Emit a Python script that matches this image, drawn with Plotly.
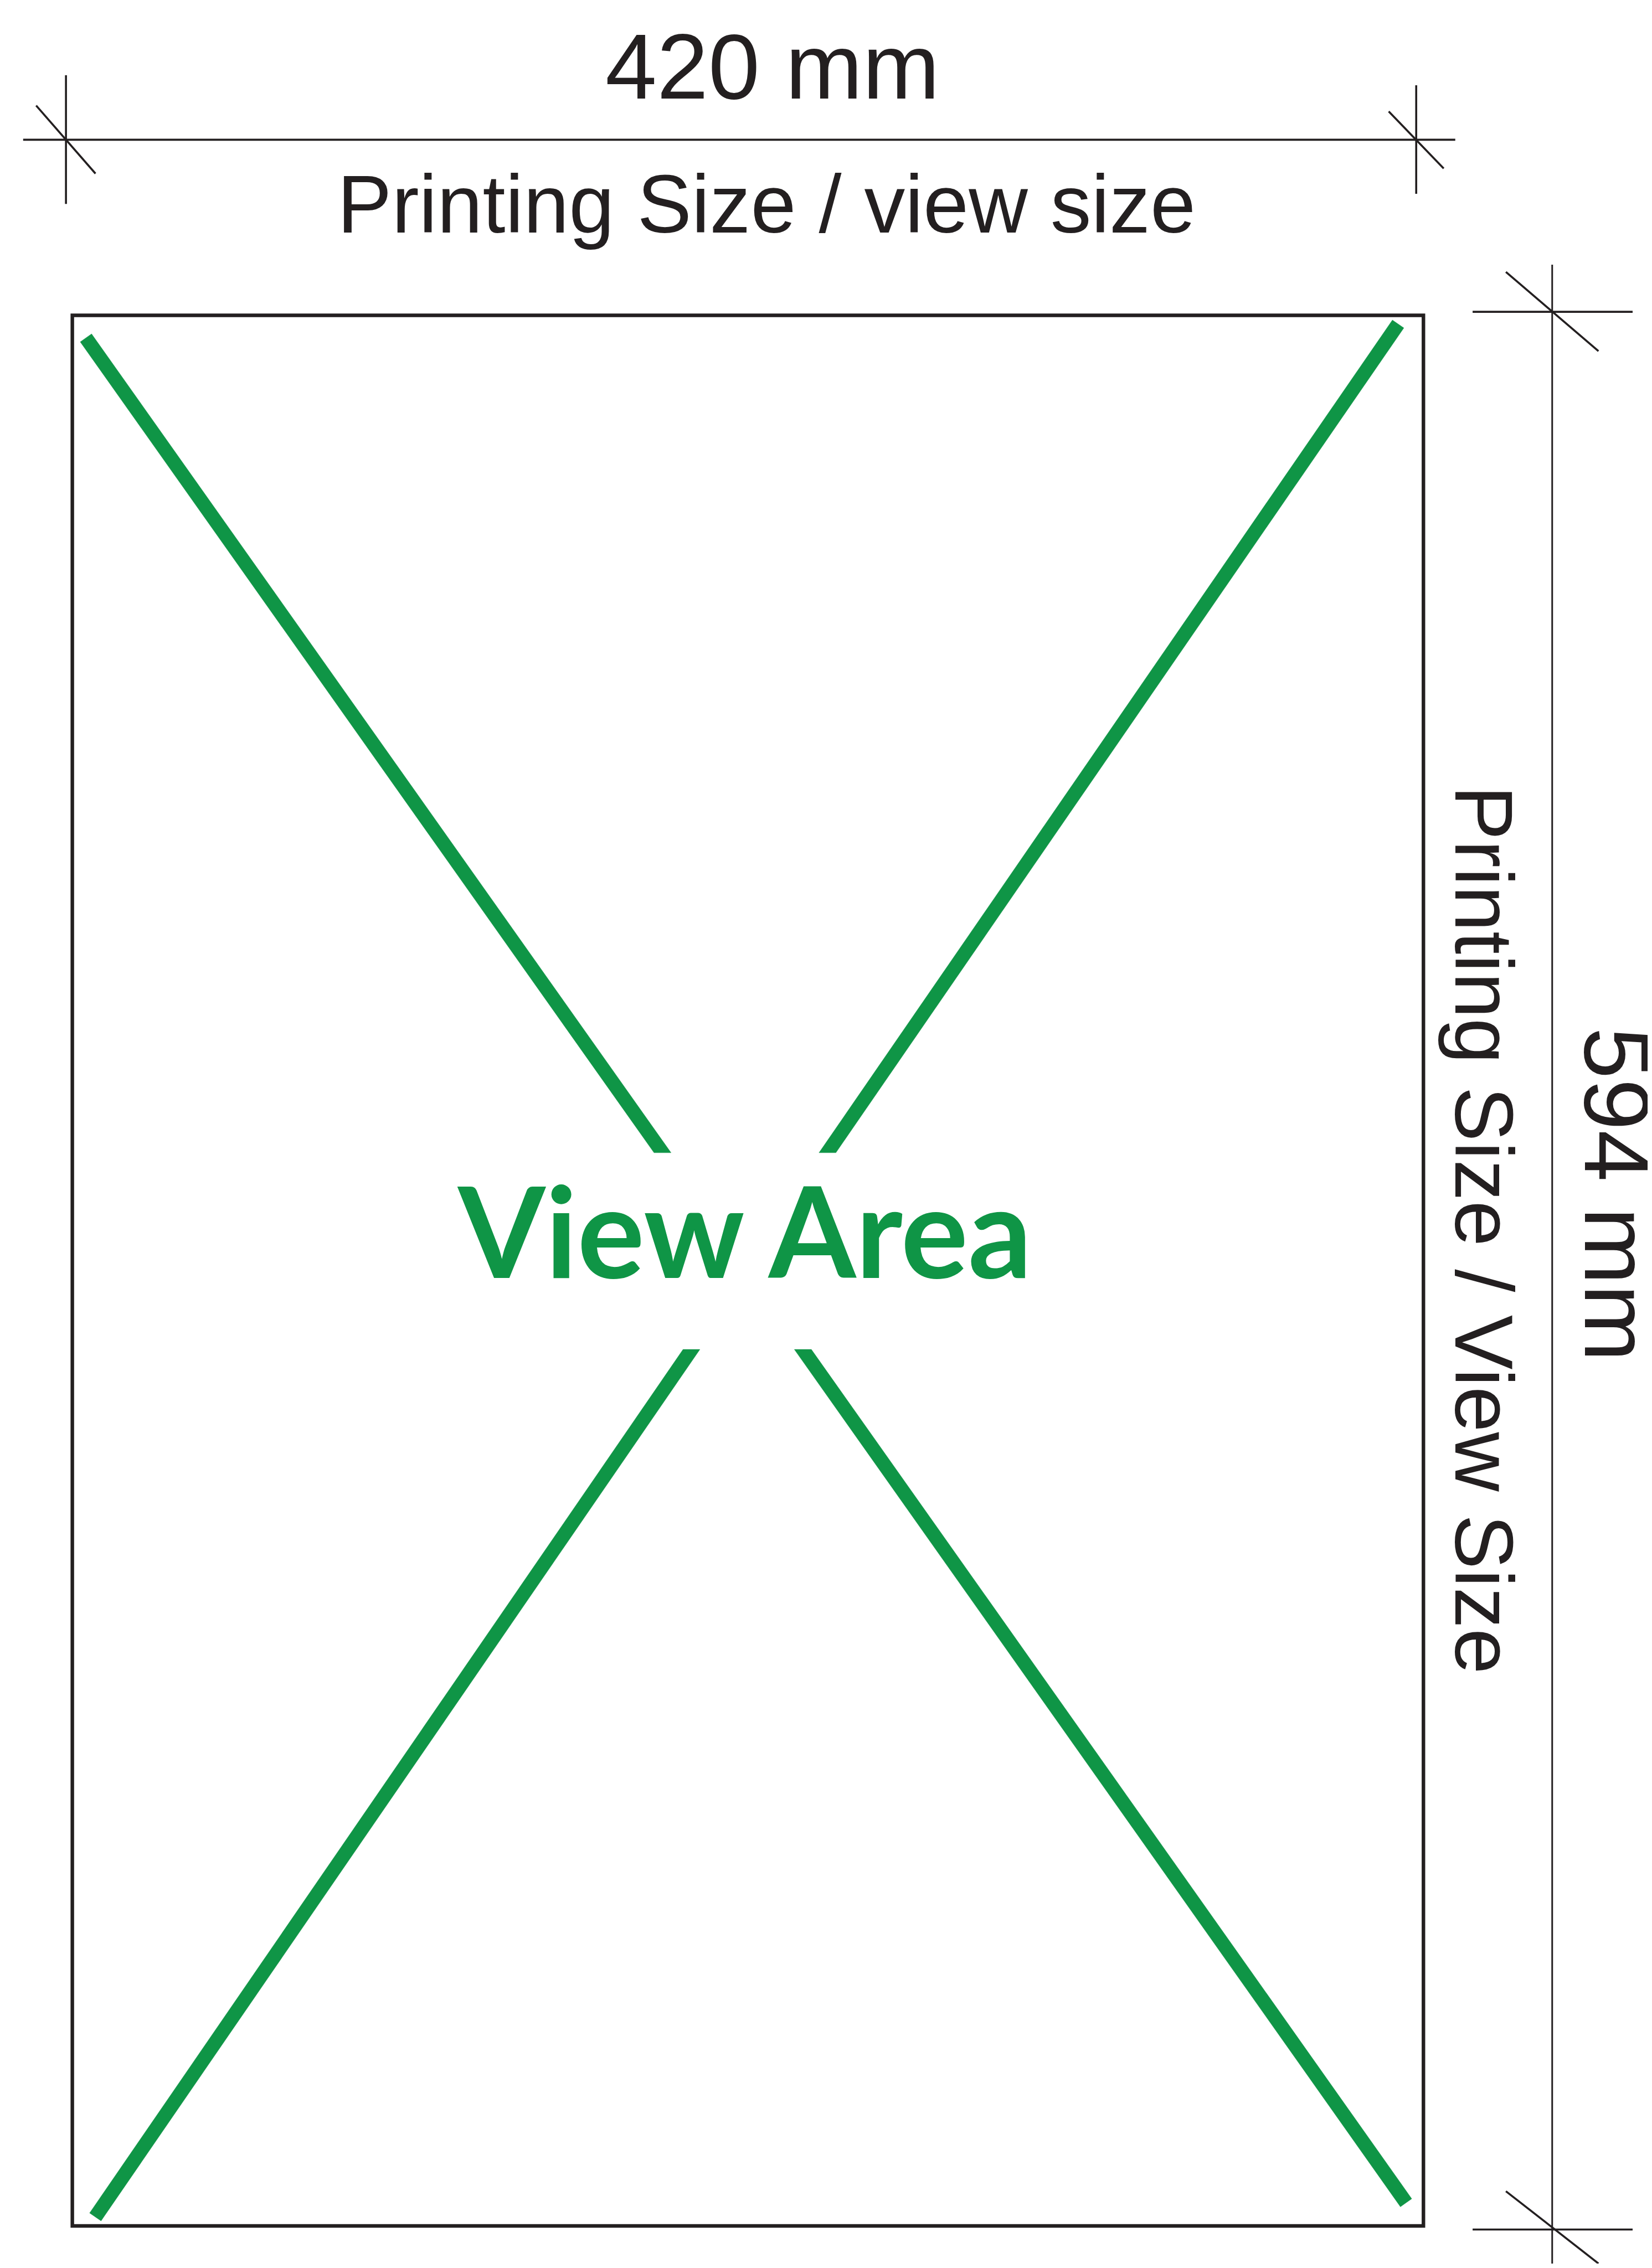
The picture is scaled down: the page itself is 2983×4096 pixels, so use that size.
import numpy as np
import plotly.graph_objects as go

# ---- diagram data (reference coordinates, 1142 x 1568 drawing units) ----
page_w, page_h = 1142, 1568

# view-area frame
frame_x = [50, 984]
frame_y = [218, 1539]

# green diagonals: outer end (near frame corner) -> inner end (near the label)
diag_outer_x = [59.4, 966.5, 65.9, 972.0]
diag_outer_y = [233.6, 224.0, 1532.8, 1523.0]
diag_inner_x = [458.0, 572.0, 478.0, 555.0]
diag_inner_y = [797.0, 797.0, 933.0, 933.0]
diag_width = 9.6

# horizontal dimension (420 mm)
hdim_line_x = [16, 1006]
hdim_line_y = 96.6
hdim_tick_x = [45.6, 979.0]
hdim_tick_y0 = [52, 59]
hdim_tick_y1 = [141, 134]
hdim_slash_x0 = [25, 960]
hdim_slash_y0 = [73, 77]
hdim_slash_x1 = [66, 998]
hdim_slash_y1 = [120, 116.5]

# vertical dimension (594 mm)
vdim_line_x = 1073
vdim_line_y = [183, 1568]
vdim_tick_y = [215.6, 1541.5]
vdim_tick_x0 = [1018, 1018]
vdim_tick_x1 = [1128.6, 1128.6]
vdim_slash_x0 = [1041, 1041]
vdim_slash_y0 = [188, 1515]
vdim_slash_x1 = [1105, 1105]
vdim_slash_y1 = [242.8, 1565]

dim_labels = ["420 mm", "594 mm"]
size_labels = ["Printing Size / view size", "Printing Size / View Size"]
center_label = "View Area"

GREEN = "#0f9546"
INK = "#231f20"
WIN_W, WIN_H = 2983, 4096
S = WIN_W / page_w  # px per drawing unit
BODY = 8            # default page margin around the plot div
FIG_W, FIG_H = WIN_W - 2 * BODY, WIN_H - 2 * BODY
u0 = BODY / S

fig = go.Figure()

# frame
fig.add_shape(type="rect", xref="x", yref="y",
              x0=frame_x[0], x1=frame_x[1], y0=frame_y[0], y1=frame_y[1],
              line=dict(color=INK, width=6.4), fillcolor="rgba(0,0,0,0)")

# green diagonals as filled strips (square outer cut, horizontal inner cut)
h = diag_width / 2
for ox, oy, ix, iy in zip(diag_outer_x, diag_outer_y, diag_inner_x, diag_inner_y):
    O = np.array([ox, oy]); I = np.array([ix, iy])
    d = (I - O) / np.linalg.norm(I - O)
    n = np.array([-d[1], d[0]])
    pts = []
    for s in (1, -1):
        P0 = O + s * h * n
        t = (iy - P0[1]) / d[1]
        pts.append((P0, P0 + t * d))
    poly = [pts[0][0], pts[0][1], pts[1][1], pts[1][0], pts[0][0]]
    fig.add_trace(go.Scatter(x=[p[0] for p in poly], y=[p[1] for p in poly],
                             mode="lines", fill="toself", fillcolor=GREEN,
                             line=dict(color=GREEN, width=0.5),
                             hoverinfo="skip", showlegend=False))

def seg(x0, y0, x1, y1, w=3.6):
    fig.add_trace(go.Scatter(x=[x0, x1], y=[y0, y1], mode="lines",
                             line=dict(color=INK, width=w),
                             hoverinfo="skip", showlegend=False))

# horizontal dimension
seg(hdim_line_x[0], hdim_line_y, hdim_line_x[1], hdim_line_y)
for i in range(2):
    seg(hdim_tick_x[i], hdim_tick_y0[i], hdim_tick_x[i], hdim_tick_y1[i])
    seg(hdim_slash_x0[i], hdim_slash_y0[i], hdim_slash_x1[i], hdim_slash_y1[i])

# vertical dimension
seg(vdim_line_x, vdim_line_y[0], vdim_line_x, vdim_line_y[1], w=3.0)
for i in range(2):
    seg(vdim_tick_x0[i], vdim_tick_y[i], vdim_tick_x1[i], vdim_tick_y[i])
    seg(vdim_slash_x0[i], vdim_slash_y0[i], vdim_slash_x1[i], vdim_slash_y1[i])

SANS = "Liberation Sans, Arial, sans-serif"
fig.add_annotation(x=534, y=46, text=dim_labels[0], showarrow=False,
                   xanchor="center", yanchor="middle",
                   font=dict(family=SANS, size=64 * S, color=INK))
fig.add_annotation(x=530, y=141, text=size_labels[0], showarrow=False,
                   xanchor="center", yanchor="middle",
                   font=dict(family=SANS, size=56.5 * S, color=INK))
fig.add_annotation(x=1118, y=826, text=dim_labels[1], showarrow=False,
                   textangle=90, xanchor="center", yanchor="middle",
                   font=dict(family=SANS, size=64 * S, color=INK))
fig.add_annotation(x=1026, y=850, text=size_labels[1], showarrow=False,
                   textangle=90, xanchor="center", yanchor="middle",
                   font=dict(family=SANS, size=56.8 * S, color=INK))
fig.add_annotation(x=514.5, y=850, text=center_label, showarrow=False,
                   xanchor="center", yanchor="middle",
                   font=dict(family="Lato, Open Sans, sans-serif", size=87 * S,
                             color=GREEN, weight=700))

fig.update_xaxes(range=[u0, u0 + FIG_W / S], visible=False, fixedrange=True)
fig.update_yaxes(range=[u0 + FIG_H / S, u0], visible=False, fixedrange=True)
fig.update_layout(width=FIG_W, height=FIG_H, margin=dict(l=0, r=0, t=0, b=0),
                  paper_bgcolor="white", plot_bgcolor="white", showlegend=False)

fig.write_html("out.html")
